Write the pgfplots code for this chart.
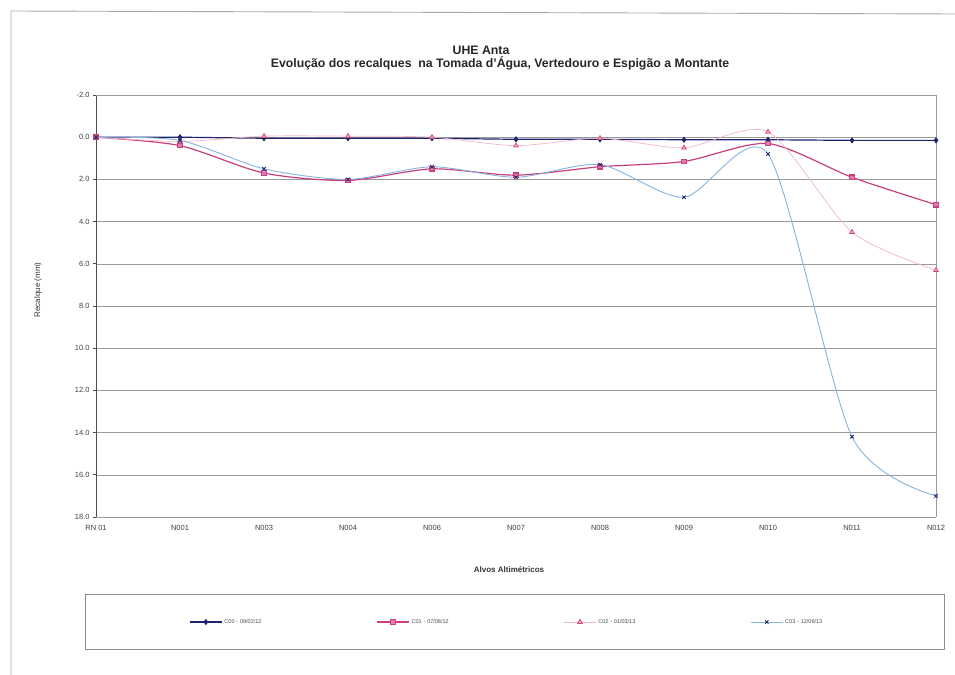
\documentclass[border=0pt]{standalone}
\usepackage{pgfplots}
\pgfplotsset{compat=1.18}
\usepackage{fontspec}
\setmainfont{Liberation Sans}
\definecolor{cnavy}{HTML}{1E2470}
\definecolor{cmag}{HTML}{C8407E}
\definecolor{cmagfill}{HTML}{E47AB2}
\definecolor{cpink}{HTML}{F2B4CA}
\definecolor{ctri}{HTML}{D84A6A}
\definecolor{cblue}{HTML}{86B2E2}
\definecolor{cgrid}{HTML}{9A9A9A}
\begin{document}
\begin{tikzpicture}
\path[use as bounding box] (0bp,0bp) rectangle (955bp,675bp);
\draw[gray!70, line width=0.9bp] (11bp,0bp) -- (11bp,664bp) -- (955bp,661bp);
\node[font=\fontsize{12.3bp}{14bp}\selectfont\bfseries, text=black!85] at (481bp,625bp) {UHE Anta};
\node[font=\fontsize{12.3bp}{14bp}\selectfont\bfseries, text=black!85] at (500bp,612bp) {Evolução dos recalques\ \ na Tomada d'Água, Vertedouro e Espigão a Montante};
\node[font=\fontsize{8bp}{9bp}\selectfont, rotate=90, text=black!80] at (38bp,385bp) {Recalque (mm)};
\node[font=\fontsize{8bp}{9bp}\selectfont\bfseries, text=black!80] at (509bp,105bp) {Alvos Altimétricos};
\begin{axis}[
  at={(96bp,158bp)}, anchor=south west,
  width=840bp, height=422bp, scale only axis,
  xmin=0, xmax=10, ymin=-2, ymax=18, y dir=reverse,
  xtick={0,...,10},
  xticklabels={RN 01,N001,N003,N004,N006,N007,N008,N009,N010,N011,N012},
  ytick={-2,0,...,18},
  axis x line*=bottom, axis y line*=left,
  x axis line style={cgrid, line width=0.6bp, -},
  y axis line style={black!70, line width=0.9bp, -},
  ymajorgrids, grid style={cgrid, line width=0.6bp},
  major tick length=3bp,
  xtick style={draw=none},
  ytick style={black!70, line width=0.7bp},
  tick align=outside,
  tick label style={font=\fontsize{7.5bp}{9bp}\selectfont, text=black!75},
  /pgf/number format/assume math mode=true,
  yticklabel style={/pgf/number format/.cd, fixed, fixed zerofill, precision=1},
  xticklabel style={yshift=-2bp},
  clip=false,
  legend columns=4,
  legend style={at={(-0.0131,-0.1825)}, anchor=north west, draw=black!45, line width=0.6bp,
    inner xsep=104bp, inner ysep=23bp,
    font=\fontsize{5.5bp}{6.5bp}\selectfont, text=black!70,
    nodes={text width=53bp, align=left},
    /tikz/every even column/.append style={column sep=97bp}},
  legend image code/.code={\draw[#1] (0bp,0bp) -- (32bp,0bp); \draw[#1, only marks] plot coordinates {(16bp,0bp)};},
]
\draw[cgrid, line width=0.6bp] (axis cs:10,-2) -- (axis cs:10,18);
\draw[cgrid, line width=0.6bp] (axis cs:0,-2) -- (axis cs:10,-2);
\addplot[cnavy, line width=1.2bp, mark=diamond*, mark size=2.2bp, mark options={fill=cnavy}]
  coordinates {(0,0) (1,0) (2,0.05) (3,0.05) (4,0.05) (5,0.1) (6,0.1) (7,0.12) (8,0.12) (9,0.15) (10,0.15)};
\addlegendentry{C00 - 09/02/12}
\addplot[cmag, line width=1.2bp, smooth, tension=0.45, mark=square*, mark size=2.2bp, mark options={fill=cmagfill, draw=cmag}]
  coordinates {(0,0) (1,0.4) (2,1.7) (3,2.05) (4,1.5) (5,1.8) (6,1.4) (7,1.15) (8,0.3) (9,1.9) (10,3.2)};
\addlegendentry{C01 - 07/08/12}
\addplot[cpink, line width=0.7bp, smooth, tension=0.45, mark=triangle*, mark size=2.6bp, mark options={fill=cpink, draw=ctri, line width=0.8bp}]
  coordinates {(0,0) (1,0.2) (2,-0.05) (3,-0.05) (4,0) (5,0.4) (6,0.05) (7,0.5) (8,-0.25) (9,4.5) (10,6.3)};
\addlegendentry{C02 - 01/03/13}
\addplot[cblue, line width=0.9bp, smooth, tension=0.45, mark=x, mark size=2.4bp, mark options={draw=cnavy, line width=0.9bp}]
  coordinates {(0,0) (1,0.15) (2,1.5) (3,2.0) (4,1.4) (5,1.9) (6,1.3) (7,2.85) (8,0.8) (9,14.2) (10,17.0)};
\addlegendentry{C03 - 12/09/13}
\end{axis}
\end{tikzpicture}
\end{document}
